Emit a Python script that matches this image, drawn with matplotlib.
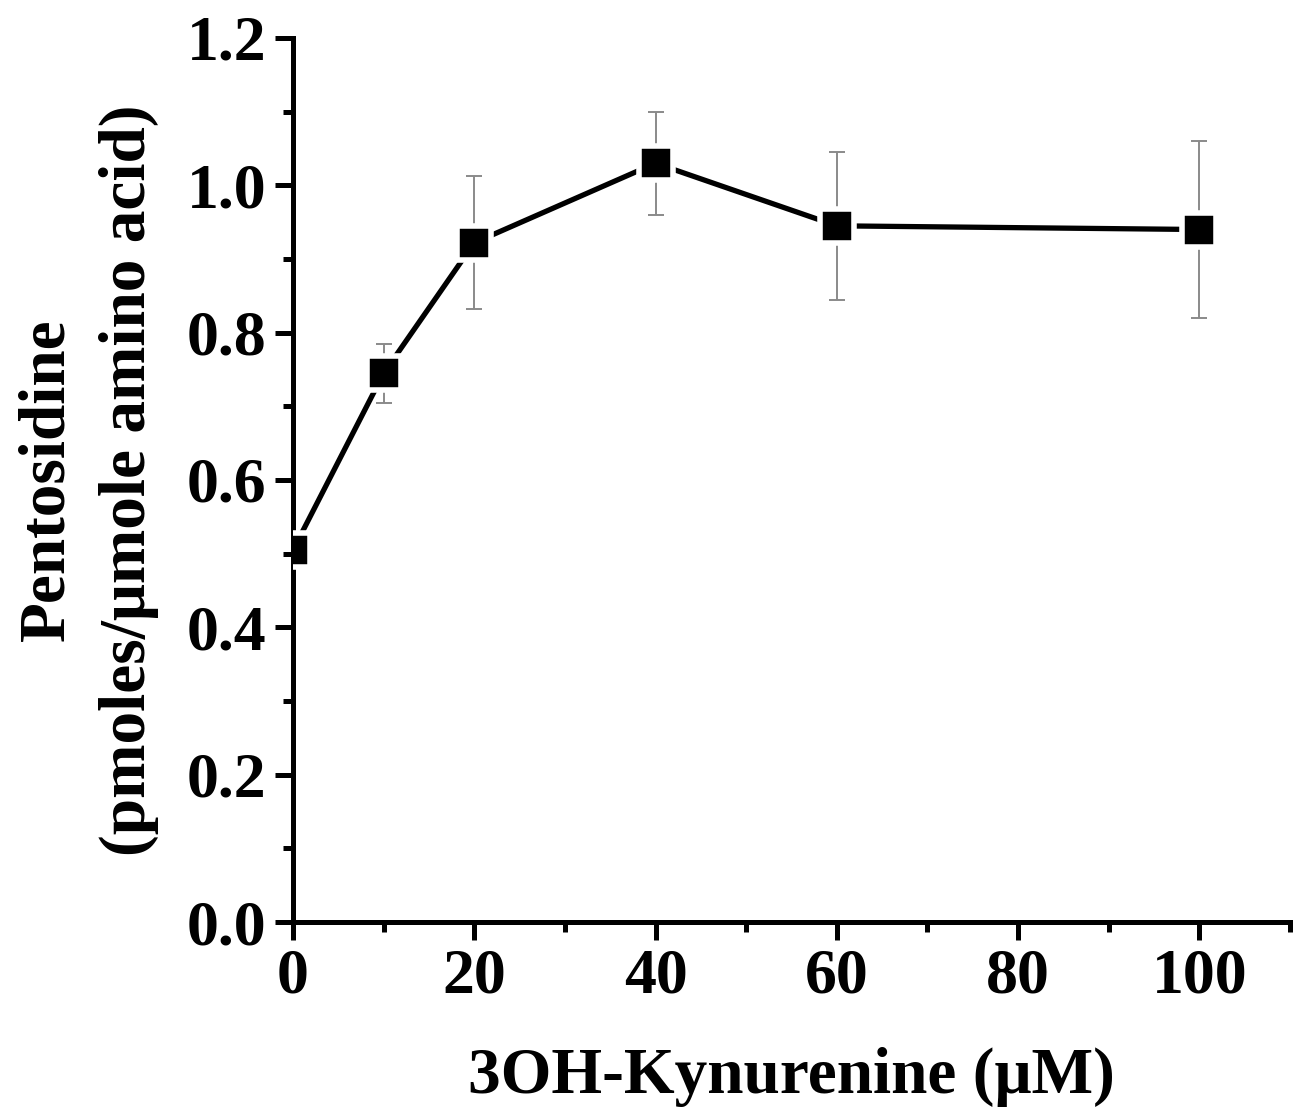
import matplotlib
matplotlib.use("Agg")
import matplotlib.pyplot as plt
from matplotlib.ticker import MultipleLocator

conc = [0, 10, 20, 40, 60, 100]
pentosidine = [0.505, 0.745, 0.922, 1.03, 0.945, 0.94]
err = [0.0, 0.04, 0.09, 0.07, 0.10, 0.12]

xlabel = "3OH-Kynurenine (\u03bcM)"
ylabel = "Pentosidine\n(pmoles/\u03bcmole amino acid)"

plt.rcParams['font.family'] = ['Liberation Serif', 'DejaVu Serif']
plt.rcParams['font.weight'] = 'bold'

fig = plt.figure(figsize=(13.03, 11.07), dpi=100)
ax = fig.add_axes([0.2249, 0.1671, 0.990 - 0.2249, 0.9657 - 0.1671])

ax.errorbar(conc, pentosidine, yerr=err, fmt='none', ecolor='#8a8a8a',
            elinewidth=1.4, capsize=6, capthick=1.4, zorder=2)
ax.plot(conc, pentosidine, color='black', lw=3.8, marker='s', markersize=24,
        markerfacecolor='black', markeredgecolor='white', markeredgewidth=4,
        solid_capstyle='round', zorder=3)

ax.set_xlim(0, 110)
ax.set_ylim(0, 1.2)
ax.xaxis.set_major_locator(MultipleLocator(20))
ax.xaxis.set_minor_locator(MultipleLocator(10))
ax.yaxis.set_major_locator(MultipleLocator(0.2))
ax.yaxis.set_minor_locator(MultipleLocator(0.1))
ax.yaxis.set_major_formatter(plt.FuncFormatter(lambda v, p: f"{v:.1f}"))

for s in ['top', 'right']:
    ax.spines[s].set_visible(False)
for s in ['left', 'bottom']:
    ax.spines[s].set_linewidth(3.6)

ax.tick_params(which='major', direction='out', length=13, width=3.6,
               labelsize=46, pad=6)
ax.tick_params(which='minor', direction='out', length=7, width=3.6)
for lab in ax.get_xticklabels() + ax.get_yticklabels():
    lab.set_fontweight('bold')

ax.set_xlabel(xlabel, fontsize=47, fontweight='bold', labelpad=29)
ax.set_ylabel(ylabel, fontsize=47, fontweight='bold', labelpad=20,
              linespacing=1.48)

fig.savefig("out.png", dpi=100)
